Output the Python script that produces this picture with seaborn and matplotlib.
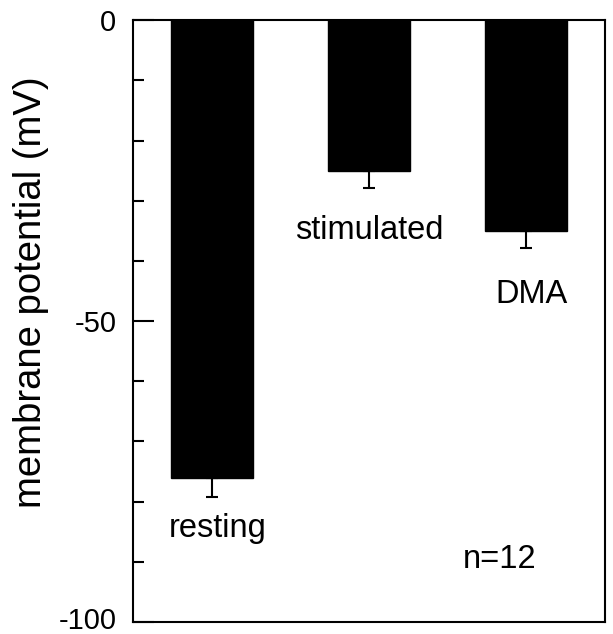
import matplotlib
matplotlib.use("Agg")
import matplotlib.pyplot as plt
import matplotlib.transforms as mtransforms
import seaborn as sns
import pandas as pd
import numpy as np

categories = ["resting", "stimulated", "DMA"]
values = [-76, -25, -35]
errors = [3.2, 2.8, 2.8]
y_ticks = [0, -50, -100]
n_label = "n=12"

sns.set_theme(style="white")
plt.rcParams['font.family'] = ['Liberation Sans', 'DejaVu Sans']
plt.rcParams['text.color'] = 'black'
plt.rcParams['axes.labelcolor'] = 'black'
plt.rcParams['ytick.color'] = 'black'

df = pd.DataFrame({"condition": categories, "potential": values})

fig = plt.figure(figsize=(6.13, 6.34), dpi=100)
ax = fig.add_axes([0.217, 0.019, 0.770, 0.949])

sns.barplot(data=df, x="condition", y="potential", color="black",
            width=0.52, errorbar=None, ax=ax, saturation=1)
for p in ax.patches:
    p.set_edgecolor("black")

xpos = np.arange(len(categories))
ax.errorbar(xpos, values, yerr=[errors, [0]*len(errors)], fmt="none",
            ecolor="black", elinewidth=1.5, capsize=4, capthick=1.5)

ax.set_ylim(-100, 0)
ax.set_xlim(-0.5, 2.5)
ax.set_yticks(y_ticks)
ax.set_yticklabels([str(t) for t in y_ticks], fontsize=21)
ax.set_yticks(np.arange(-90, 0, 10), minor=True)
ax.tick_params(axis="y", which="major", direction="in", length=15, width=1.5, pad=12, left=True, colors="black")
ax.tick_params(axis="y", which="minor", direction="in", length=8, width=1.5, left=True, colors="black")
ax.set_xticks([])
ax.set_xlabel("")
ax.set_ylabel("membrane potential (mV)", fontsize=27.5, color="black")
ax.yaxis.set_label_coords(-0.178, 0.548)

# nudge bottom tick label up slightly so it stays inside the figure
for lbl in ax.get_yticklabels():
    if lbl.get_text() == "-100":
        lbl.set_transform(lbl.get_transform() +
                          mtransforms.ScaledTranslation(0, 4 / 100, fig.dpi_scale_trans))

for s in ax.spines.values():
    s.set_color("black")
    s.set_linewidth(1.5)

label_pos = [(0.04, -84.4), (1.0, -34.9), (2.03, -45.5)]
for name, (x, y) in zip(categories, label_pos):
    ax.text(x, y, name, fontsize=23.5, ha="center", va="center", color="black")
ax.text(1.83, -89.7, n_label, fontsize=23.5, ha="center", va="center", color="black")

fig.savefig("out.png", dpi=100)
